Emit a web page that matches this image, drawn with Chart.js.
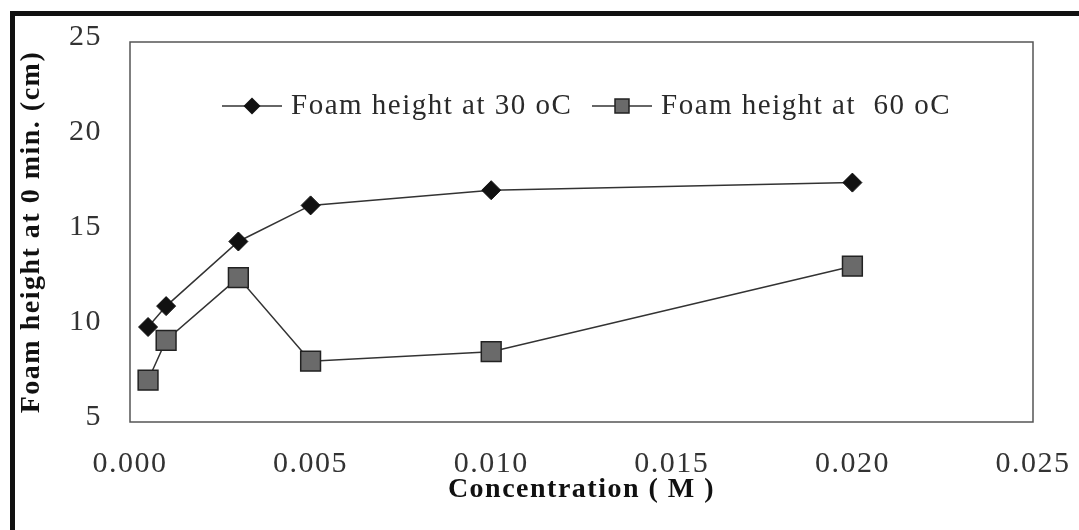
<!DOCTYPE html>
<html>
<head>
<meta charset="utf-8">
<script src="https://cdn.jsdelivr.net/npm/chart.js@4/dist/chart.umd.min.js"></script>
<style>
    body { margin: 0; background: #fff; }
    #wrap { position: relative; width: 1079px; height: 530px; }
    #frame {
        position: absolute; left: 10px; top: 11px; right: 0; bottom: 0;
        border-top: 5px solid #111; border-left: 5px solid #111;
        pointer-events: none;
    }
</style>
</head>
<body>
<div id="wrap">
    <canvas id="foamChart" width="1079" height="530"></canvas>
    <div id="frame"></div>
</div>
<script>
/* Data START */
var concentration = [0.0005, 0.001, 0.003, 0.005, 0.010, 0.020];
var foam30 = [10.0, 11.1, 14.5, 16.4, 17.2, 17.6];
var foam60 = [7.2, 9.3, 12.6, 8.2, 8.7, 13.2];
var seriesNames = ['Foam height at 30 oC', 'Foam height at  60 oC'];
var xTicks = [0, 0.005, 0.010, 0.015, 0.020, 0.025];
var yTicks = [5, 10, 15, 20, 25];
/* Data END */

var serif = "'Liberation Serif', 'Times New Roman', serif";

function toPoints(values) {
    return concentration.map((c, i) => ({x: c, y: values[i]}));
}

// spread the letters a little, the way the typeset labels look
var spacingPlugin = {
    id: 'spacing',
    beforeLayout: chart => { chart.ctx.letterSpacing = '1.5px'; },
    beforeDraw: chart => { chart.ctx.letterSpacing = '1.5px'; }
};

// box round the plot area
var boxPlugin = {
    id: 'plotBox',
    beforeDatasetsDraw(chart) {
        var a = chart.chartArea, ctx = chart.ctx;
        ctx.save();
        ctx.strokeStyle = '#555';
        ctx.lineWidth = 1.5;
        ctx.strokeRect(a.left, a.top, a.right - a.left, a.bottom - a.top);
        ctx.restore();
    }
};

function drawDiamond(ctx, x, y, r) {
    ctx.beginPath();
    ctx.moveTo(x, y - r);
    ctx.lineTo(x + r, y);
    ctx.lineTo(x, y + r);
    ctx.lineTo(x - r, y);
    ctx.closePath();
    ctx.fillStyle = '#111';
    ctx.fill();
}

function drawSquare(ctx, x, y, half) {
    ctx.fillStyle = '#6a6a6a';
    ctx.fillRect(x - half, y - half, half * 2, half * 2);
    ctx.strokeStyle = '#222';
    ctx.lineWidth = 1.5;
    ctx.strokeRect(x - half, y - half, half * 2, half * 2);
}

// legend entries: line with marker, then the name
var legendPlugin = {
    id: 'lineLegend',
    afterDraw(chart) {
        var ctx = chart.ctx;
        var entries = [
            {x0: 222, x1: 282, mx: 252, tx: 291, y: 106, mark: 'diamond'},
            {x0: 592, x1: 652, mx: 622, tx: 661, y: 106, mark: 'square'}
        ];
        ctx.save();
        entries.forEach((e, i) => {
            ctx.strokeStyle = '#333';
            ctx.lineWidth = 1.5;
            ctx.beginPath();
            ctx.moveTo(e.x0, e.y);
            ctx.lineTo(e.x1, e.y);
            ctx.stroke();
            if (e.mark === 'diamond') {
                drawDiamond(ctx, e.mx, e.y, 8.5);
            } else {
                drawSquare(ctx, e.mx, e.y, 7);
            }
            ctx.fillStyle = '#2a2a2a';
            ctx.font = '29px ' + serif;
            ctx.textAlign = 'left';
            ctx.textBaseline = 'middle';
            ctx.fillText(seriesNames[i], e.tx, e.y);
        });
        ctx.restore();
    }
};

var foamChart = new Chart('foamChart', {
    type: 'line',
    data: {
        datasets: [{
            label: seriesNames[0],
            data: toPoints(foam30),
            borderColor: '#333',
            borderWidth: 1.5,
            pointStyle: 'rectRot',
            pointRadius: 9.5,
            pointBackgroundColor: '#111',
            pointBorderColor: '#111',
            pointBorderWidth: 1,
            tension: 0
        }, {
            label: seriesNames[1],
            data: toPoints(foam60),
            borderColor: '#333',
            borderWidth: 1.5,
            pointStyle: 'rect',
            pointRadius: 14,
            pointBackgroundColor: '#6a6a6a',
            pointBorderColor: '#222',
            pointBorderWidth: 1.5,
            tension: 0
        }]
    },
    options: {
        responsive: false,
        animation: false,
        layout: {
            padding: {left: 9, top: 42, right: 46, bottom: 0}
        },
        plugins: {
            legend: {display: false},
            tooltip: {enabled: false}
        },
        scales: {
            x: {
                type: 'linear',
                min: 0,
                max: 0.025,
                afterBuildTicks: scale => {
                    scale.ticks = xTicks.map(v => ({value: v}));
                },
                afterFit: scale => {
                    scale.height = 108;
                    scale.paddingLeft = 0;
                    scale.paddingRight = 0;
                },
                grid: {display: false, drawTicks: false},
                border: {display: false},
                ticks: {
                    padding: 24,
                    color: '#333',
                    font: {family: serif, size: 30},
                    callback: v => v.toFixed(3)
                },
                title: {
                    display: true,
                    text: 'Concentration ( M )',
                    color: '#111',
                    padding: {top: 0, bottom: 23},
                    font: {family: serif, size: 28, weight: 'bold'}
                }
            },
            y: {
                min: 5,
                max: 25,
                afterBuildTicks: scale => {
                    scale.ticks = yTicks.map(v => ({value: v}));
                },
                afterFit: scale => {
                    scale.width = 121;
                    scale.paddingTop = 0;
                    scale.paddingBottom = 0;
                },
                grid: {display: false, drawTicks: false},
                border: {display: false},
                ticks: {
                    padding: 28,
                    labelOffset: -5,
                    color: '#333',
                    font: {family: serif, size: 30}
                },
                title: {
                    display: true,
                    text: 'Foam height at 0 min. (cm)',
                    color: '#111',
                    padding: {top: 6, bottom: 0},
                    font: {family: serif, size: 28, weight: 'bold'}
                }
            }
        }
    },
    plugins: [spacingPlugin, boxPlugin, legendPlugin]
});
</script>
</body>
</html>
